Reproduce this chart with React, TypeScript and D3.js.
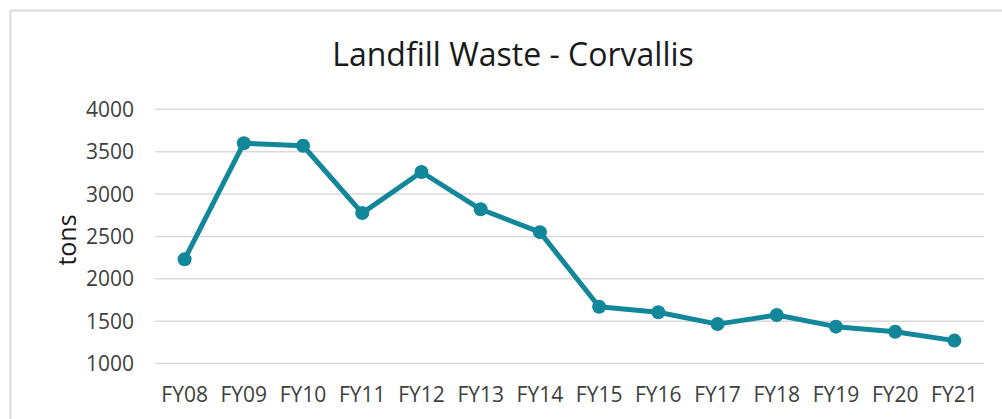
import React, { useEffect, useRef } from "react";
import * as d3 from "d3";

const categories = ["FY08","FY09","FY10","FY11","FY12","FY13","FY14","FY15","FY16","FY17","FY18","FY19","FY20","FY21"];
const tons = [2230,3600,3570,2775,3260,2820,2550,1670,1605,1465,1572,1435,1375,1270];
const yTicks = [1000,1500,2000,2500,3000,3500,4000];
const title = "Landfill Waste - Corvallis";
const yLabel = "tons";

const W = 1002, H = 419;
const FONT = "'Open Sans', 'Liberation Sans', sans-serif";
const COLOR = "#12879A";

export default function App() {
  const ref = useRef<SVGSVGElement>(null);
  useEffect(() => {
    const svg = d3.select(ref.current);
    svg.selectAll("*").remove();
    const left = 155, right = 984, top = 109.3, bottom = 363.5;
    const x = d3.scaleBand<string>().domain(categories).range([left, right]);
    const y = d3.scaleLinear().domain([1000, 4000]).range([bottom, top]);

    svg.append("rect").attr("x", 10.5).attr("y", 10.5).attr("width", 1010).attr("height", 420)
      .attr("fill", "#fff").attr("stroke", "#d9d9d9").attr("stroke-width", 2);

    svg.append("text").attr("x", 513).attr("y", 66).attr("text-anchor", "middle")
      .attr("font-family", FONT).attr("font-size", 32).attr("fill", "#1a1a1a").text(title);

    const g = svg.append("g");
    g.selectAll("line.grid").data(yTicks).enter().append("line")
      .attr("x1", left).attr("x2", right)
      .attr("y1", d => y(d)).attr("y2", d => y(d))
      .attr("stroke", "#d9d9d9").attr("stroke-width", 1.5);

    g.selectAll("text.yt").data(yTicks).enter().append("text")
      .attr("x", 134).attr("y", d => y(d) + 7.5).attr("text-anchor", "end")
      .attr("font-family", FONT).attr("font-size", 21).attr("fill", "#404040").text(d => String(d));

    g.selectAll("text.xt").data(categories).enter().append("text")
      .attr("x", d => (x(d) as number) + x.bandwidth() / 2).attr("y", 401.5).attr("text-anchor", "middle")
      .attr("font-family", FONT).attr("font-size", 21).attr("fill", "#404040").text(d => d);

    svg.append("text").attr("transform", `translate(76,240) rotate(-90)`).attr("text-anchor", "middle")
      .attr("font-family", FONT).attr("font-size", 25).attr("fill", "#1a1a1a").text(yLabel);

    const line = d3.line<number>()
      .x((_, i) => (x(categories[i]) as number) + x.bandwidth() / 2)
      .y(d => y(d));
    svg.append("path").datum(tons).attr("d", line).attr("fill", "none")
      .attr("stroke", COLOR).attr("stroke-width", 5).attr("stroke-linejoin", "round");
    svg.selectAll("circle.pt").data(tons).enter().append("circle")
      .attr("cx", (_, i) => (x(categories[i]) as number) + x.bandwidth() / 2)
      .attr("cy", d => y(d)).attr("r", 7).attr("fill", COLOR);
  }, []);
  return <svg ref={ref} width={W} height={H} style={{ position: "absolute", left: 0, top: 0, display: "block" }} />;
}
